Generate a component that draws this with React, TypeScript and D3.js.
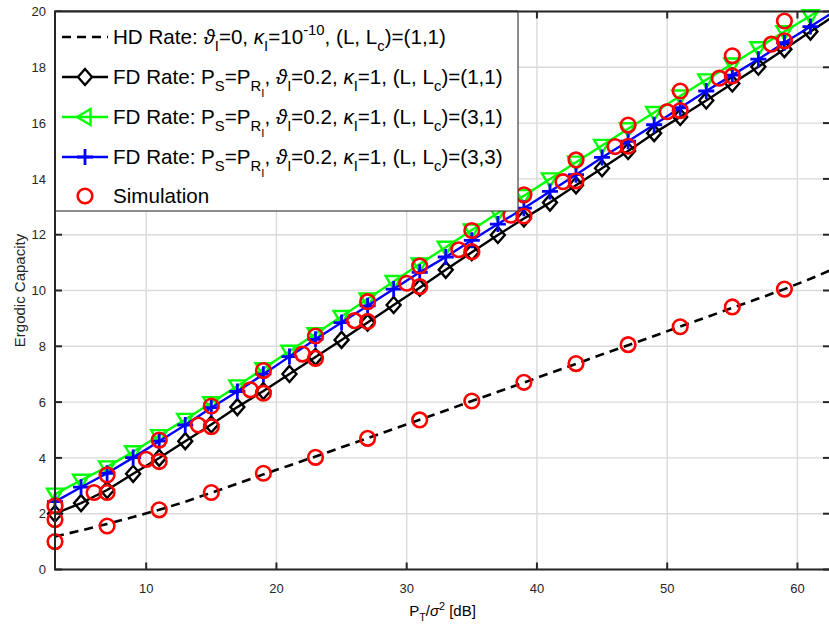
import React from 'react';
import * as d3 from 'd3';

// theoretical curves sampled every 2 dB
const thX = [3,5,7,9,11,13,15,17,19,21,23,25,27,29,31,33,35,37,39,41,43,45,47,49,51,53,55,57,59,61,63];
const hdRate = [1.18,1.4,1.63,1.88,2.14,2.43,2.75,3.08,3.41,3.73,4.05,4.38,4.71,5.04,5.37,5.7,6.04,6.37,6.7,7.04,7.37,7.71,8.04,8.37,8.71,9.04,9.38,9.71,10.05,10.42,10.82];
const fd11 = [2.0,2.38,2.85,3.43,4.0,4.6,5.2,5.82,6.4,7.01,7.62,8.23,8.85,9.48,10.1,10.74,11.37,11.99,12.58,13.15,13.77,14.38,15.0,15.64,16.22,16.81,17.42,18.02,18.65,19.28,19.9];
const fd31 = [2.7,3.2,3.68,4.22,4.8,5.38,5.98,6.58,7.2,7.82,8.45,9.07,9.7,10.32,10.95,11.55,12.17,12.78,13.4,14.0,14.6,15.2,15.8,16.38,16.97,17.55,18.12,18.7,19.28,19.85,20.42];
const fd33 = [2.43,2.95,3.45,4.01,4.6,5.18,5.8,6.38,7.0,7.63,8.25,8.85,9.45,10.05,10.65,11.2,11.8,12.38,12.95,13.55,14.15,14.77,15.35,15.94,16.55,17.15,17.72,18.29,18.88,19.46,20.05];

// simulation points
const simX = [3,7,11,15,19,23,27,31,35,39,43,47,51,55,59];
const simHD = [1.0,1.56,2.14,2.76,3.45,4.02,4.70,5.36,6.04,6.71,7.38,8.06,8.70,9.41,10.05];
const simUpper = [2.28,3.39,4.64,5.86,7.13,8.37,9.6,10.88,12.15,13.43,14.68,15.93,17.15,18.41,19.66];
const simLower = [1.79,2.76,3.87,5.12,6.32,7.57,8.89,10.14,11.39,12.67,13.93,15.17,16.45,17.69,18.95];
const simMidX = [6,10,14,18,22,26,30,34,38,42,46,50,54,58];
const simMid = [2.76,3.95,5.18,6.44,7.72,8.92,10.26,11.46,12.7,13.9,15.16,16.41,17.61,18.83];

const xTickVals = [10,20,30,40,50,60];
const yTickVals = [0,2,4,6,8,10,12,14,16,18,20];

const FONT = "'Liberation Sans', Arial, Helvetica, sans-serif";
const AX = '#262626';

type Seg = { t: string; k?: 'sub' | 'sup' | 'ss'; it?: boolean };

function Rich({ x, y, segs, size, anchor }: { x: number; y: number; segs: Seg[]; size: number; anchor?: string }) {
  let cur = 0;
  return (
    <text x={x} y={y} fontSize={size} fontFamily={FONT} fill="#000" textAnchor={anchor || 'start'} style={{ whiteSpace: 'pre' }}>
      {segs.map((s, i) => {
        const off = s.k === 'sub' ? size * 0.36 : s.k === 'ss' ? size * 0.62 : s.k === 'sup' ? -size * 0.42 : 0;
        const dy = off - cur;
        cur = off;
        const fs = s.k === 'ss' ? size * 0.55 : s.k ? size * 0.72 : size;
        return (
          <tspan key={i} dy={dy} fontSize={fs} fontStyle={s.it ? 'italic' : undefined}>{s.t}</tspan>
        );
      })}
    </text>
  );
}

const diamond = 'M0,-8L7,0L0,8L-7,0Z';
const triDown = 'M-8,-5.5L8,-5.5L0,8Z';
const triLeft = 'M-8,0L5.5,-8L5.5,8Z';
const cross = 'M-8,0H8M0,-8V8';

function fdSegs(lc: string): Seg[] {
  return [
    { t: 'FD Rate: P' }, { t: 'S', k: 'sub' }, { t: '=P' }, { t: 'R', k: 'sub' }, { t: 'I', k: 'ss' },
    { t: ', ' }, { t: 'ϑ', it: true }, { t: 'I', k: 'sub' }, { t: '=0.2, ' }, { t: 'κ', it: true }, { t: 'I', k: 'sub' },
    { t: '=1, (L, L' }, { t: 'c', k: 'sub' }, { t: ')=' + lc },
  ];
}

export default function App() {
  const L = 55, R = 830, T = 11.5, B = 569.5;
  const x = d3.scaleLinear().domain([3, 62.5]).range([L, R]);
  const y = d3.scaleLinear().domain([0, 20]).range([B, T]);
  const line = d3.line<number>().x((_, i) => x(thX[i])).y((d) => y(d));

  const markers = (vals: number[], path: string, color: string, sw: number, fill = 'none') =>
    vals.map((v, i) =>
      thX[i] <= 62.5 ? (
        <path key={i} d={path} transform={`translate(${x(thX[i])},${y(v)})`} fill={fill} stroke={color} strokeWidth={sw} />
      ) : null
    );

  const circles = (xs: number[], vals: number[], key: string) =>
    vals.map((v, i) => (
      <circle key={key + i} cx={x(xs[i])} cy={y(v)} r={7.3} fill="none" stroke="#ff0000" strokeWidth={2.6} />
    ));

  const rows = [37, 77, 117, 157, 196];
  const lx0 = 62, lx1 = 108, lxm = 85, tx = 113;
  const LS = 20.6;

  return (
    <svg width={829} height={626} style={{ position: 'absolute', left: 0, top: 0, background: '#fff' }}>
      <rect x={0} y={0} width={829} height={626} fill="#fff" />
      <defs>
        <clipPath id="plotclip">
          <rect x={L} y={T} width={R - L} height={B - T} />
        </clipPath>
      </defs>
      {/* grid */}
      <g stroke="#dadada" strokeWidth={1.4}>
        {xTickVals.map((t) => (
          <line key={'gx' + t} x1={x(t)} x2={x(t)} y1={T} y2={B} />
        ))}
        {yTickVals.map((t) => (
          <line key={'gy' + t} x1={L} x2={R} y1={y(t)} y2={y(t)} />
        ))}
      </g>
      {/* curves */}
      <g clipPath="url(#plotclip)" fill="none" strokeLinejoin="round">
        <path d={line(hdRate) || ''} stroke="#000" strokeWidth={2.6} strokeDasharray="9,6" />
        <path d={line(fd11) || ''} stroke="#000" strokeWidth={2.4} />
      </g>
      <g>{markers(fd11, diamond, '#000', 2.4)}</g>
      <g clipPath="url(#plotclip)" fill="none">
        <path d={line(fd31) || ''} stroke="#00ff00" strokeWidth={2.4} />
      </g>
      <g>{markers(fd31, triDown, '#00ff00', 2.4)}</g>
      <g clipPath="url(#plotclip)" fill="none">
        <path d={line(fd33) || ''} stroke="#0000ff" strokeWidth={2.4} />
      </g>
      <g>{markers(fd33, cross, '#0000ff', 2.8)}</g>
      <g>
        {circles(simX, simHD, 'h')}
        {circles(simX, simUpper, 'u')}
        {circles(simX, simLower, 'l')}
        {circles(simMidX, simMid, 'm')}
      </g>
      {/* axes box */}
      <g stroke={AX} strokeWidth={2} fill="none">
        <rect x={L} y={T} width={R - L} height={B - T} />
        {xTickVals.map((t) => (
          <g key={'tx' + t}>
            <line x1={x(t)} x2={x(t)} y1={B} y2={B - 7} />
            <line x1={x(t)} x2={x(t)} y1={T} y2={T + 7} />
          </g>
        ))}
        {yTickVals.map((t) => (
          <g key={'ty' + t}>
            <line x1={L} x2={L + 7} y1={y(t)} y2={y(t)} />
            <line x1={R} x2={R - 7} y1={y(t)} y2={y(t)} />
          </g>
        ))}
      </g>
      <g fontFamily={FONT} fontSize={13} fill={AX}>
        {xTickVals.map((t) => (
          <text key={'lx' + t} x={x(t)} y={593} textAnchor="middle">{t}</text>
        ))}
        {yTickVals.map((t) => (
          <text key={'ly' + t} x={L - 9} y={y(t) + 4.6} textAnchor="end">{t}</text>
        ))}
      </g>
      <text x={0} y={0} transform={`translate(25,${(T + B) / 2}) rotate(-90)`} textAnchor="middle" fontFamily={FONT} fontSize={15} fill={AX}>
        Ergodic Capacity
      </text>
      <Rich x={(L + R) / 2} y={616} size={15} anchor="middle"
        segs={[{ t: 'P' }, { t: 'T', k: 'sub' }, { t: '/' }, { t: 'σ', it: true }, { t: '2', k: 'sup' }, { t: ' [dB]' }]} />
      {/* legend */}
      <rect x={L} y={T} width={518 - L} height={211 - T} fill="#fff" stroke="#404040" strokeWidth={1.2} />
      <line x1={L} x2={518} y1={T} y2={T} stroke={AX} strokeWidth={2} />
      <line x1={L} x2={L} y1={T} y2={211} stroke={AX} strokeWidth={2} />
      <line x1={lx0} x2={lx1} y1={rows[0]} y2={rows[0]} stroke="#000" strokeWidth={2.6} strokeDasharray="9,6" />
      <line x1={lx0} x2={lx1} y1={rows[1]} y2={rows[1]} stroke="#000" strokeWidth={2.4} />
      <path d={diamond} transform={`translate(${lxm},${rows[1]})`} fill="#fff" stroke="#000" strokeWidth={2.4} />
      <line x1={lx0} x2={lx1} y1={rows[2]} y2={rows[2]} stroke="#00ff00" strokeWidth={2.4} />
      <path d={triLeft} transform={`translate(${lxm},${rows[2]})`} fill="none" stroke="#00ff00" strokeWidth={2.4} />
      <line x1={lx0} x2={lx1} y1={rows[3]} y2={rows[3]} stroke="#0000ff" strokeWidth={2.4} />
      <path d={cross} transform={`translate(${lxm},${rows[3]})`} fill="none" stroke="#0000ff" strokeWidth={2.8} />
      <circle cx={lxm} cy={rows[4]} r={7.3} fill="none" stroke="#ff0000" strokeWidth={2.6} />
      <Rich x={tx} y={rows[0] + 7} size={LS}
        segs={[{ t: 'HD Rate: ' }, { t: 'ϑ', it: true }, { t: 'I', k: 'sub' }, { t: '=0, ' }, { t: 'κ', it: true }, { t: 'I', k: 'sub' },
          { t: '=10' }, { t: '-10', k: 'sup' }, { t: ', (L, L' }, { t: 'c', k: 'sub' }, { t: ')=(1,1)' }]} />
      <Rich x={tx} y={rows[1] + 7} size={LS} segs={fdSegs('(1,1)')} />
      <Rich x={tx} y={rows[2] + 7} size={LS} segs={fdSegs('(3,1)')} />
      <Rich x={tx} y={rows[3] + 7} size={LS} segs={fdSegs('(3,3)')} />
      <Rich x={tx} y={rows[4] + 7} size={LS} segs={[{ t: 'Simulation' }]} />
    </svg>
  );
}
